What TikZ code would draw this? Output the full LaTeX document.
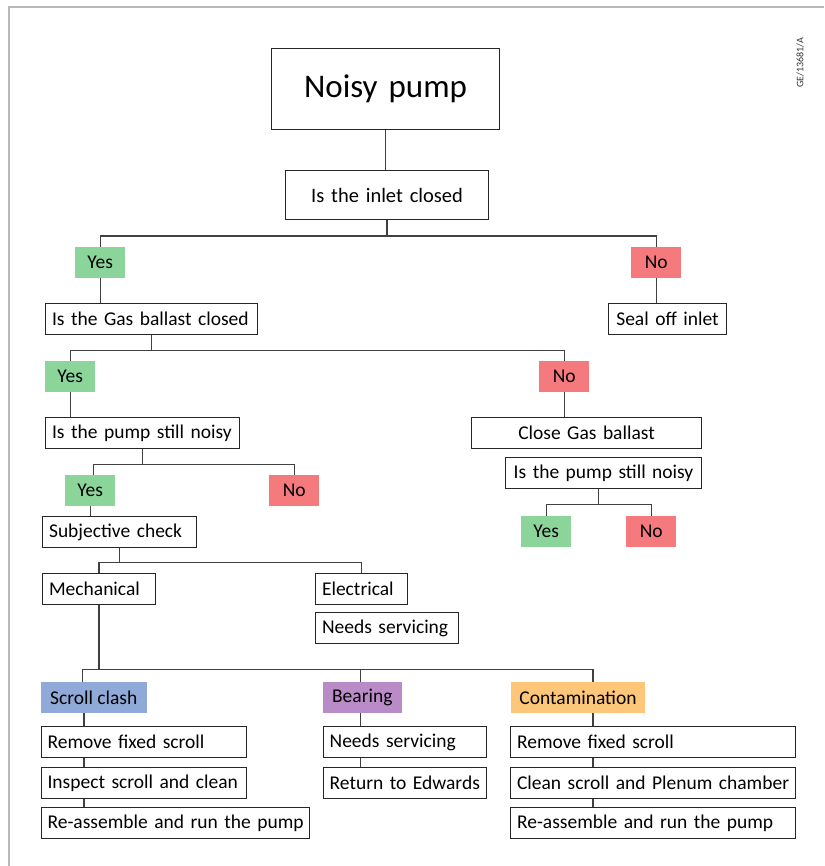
\documentclass[tikz,border=0pt]{standalone}
\usepackage{fontspec}
\setmainfont{Carlito}
\usepackage{xcolor}
\usepackage{tikz}
\definecolor{tagYes}{RGB}{140,213,154}
\definecolor{tagNo}{RGB}{244,122,126}
\definecolor{tagScroll}{RGB}{143,169,217}
\definecolor{tagBearing}{RGB}{185,139,199}
\definecolor{tagCont}{RGB}{253,198,121}
\newcommand{\bodyfont}{\fontsize{19.5}{23}\selectfont}

\begin{document}
\begin{tikzpicture}[x=1pt, y=-1pt,
    wbox/.style={draw=black!85, line width=1.1pt, fill=white, anchor=north west,
        inner xsep=6.5pt, inner ysep=0pt, minimum height=31pt, text width=#1,
        align=left, font=\bodyfont,
        execute at begin node=\leavevmode\hbox\bgroup, execute at end node=\egroup},
    tag/.style={fill=#1, anchor=north west, minimum width=50pt, minimum height=31pt,
        inner sep=0pt, font=\bodyfont},
    link/.style={draw=black!75, line width=1.2pt}]
    \useasboundingbox (0,0) rectangle (824,866);

    % Frame and reference
    \draw[gray!55, line width=1.5pt] (9,866) -- (9,7) -- (824,7);
    \node[rotate=90, text=black!80, font=\fontsize{10}{12}\selectfont] (ref) at (800,63) {GE/13681/A};

    % Top of the tree
    \node[wbox=215, minimum height=81pt, align=center, font=\fontsize{33}{38}\selectfont] (pump) at (271,48) {Noisy pump};
    \node[wbox=190, minimum height=49pt, align=center, font=\fontsize{20.5}{25}\selectfont] (inlet) at (285,170) {Is the inlet closed};
    \node[tag=tagYes] (yes1) at (75,247) {Yes};
    \node[tag=tagNo] (no1) at (631,247) {No};
    \node[wbox=199] (gas) at (45,303) {Is the Gas ballast closed};
    \node[wbox=105, align=center] (seal) at (608,303) {Seal off inlet};

    % Gas ballast branch
    \node[tag=tagYes] (yes2) at (45,361) {Yes};
    \node[tag=tagNo] (no2) at (539,361) {No};
    \node[wbox=181] (stillL) at (45,417) {Is the pump still noisy};
    \node[wbox=217, align=center] (close) at (471,417) {Close Gas ballast};
    \node[wbox=183, align=center] (stillR) at (505,457) {Is the pump still noisy};
    \node[tag=tagYes] (yes3) at (521,516) {Yes};
    \node[tag=tagNo] (no3) at (626,516) {No};

    % Still noisy branch
    \node[tag=tagYes] (yes4) at (65,475) {Yes};
    \node[tag=tagNo] (no4) at (269,475) {No};
    \node[wbox=141] (subj) at (42,516) {Subjective check};
    \node[wbox=100] (mech) at (42,573) {Mechanical};
    \node[wbox=79] (elec) at (315,573) {Electrical};
    \node[wbox=130] (elecserv) at (315,612) {Needs servicing};

    % Mechanical causes
    \node[tag=tagScroll, minimum width=106pt] (scroll) at (40.5,682) {Scroll clash};
    \node[tag=tagBearing, minimum width=79pt] (bearing) at (322.6,682) {Bearing};
    \node[tag=tagCont, minimum width=134pt] (cont) at (510.8,682) {Contamination};
    \node[wbox=192] (remA) at (40.5,726) {Remove fixed scroll};
    \node[wbox=192] (inspA) at (40.5,767) {Inspect scroll and clean};
    \node[wbox=255.5] (runA) at (40.5,807) {Re-assemble and run the pump};
    \node[wbox=150.4] (servB) at (322.6,726) {Needs servicing};
    \node[wbox=150.4] (retB) at (322.6,767) {Return to Edwards};
    \node[wbox=271.5] (remC) at (510,726) {Remove fixed scroll};
    \node[wbox=271.5] (cleanC) at (510,767) {Clean scroll and Plenum chamber};
    \node[wbox=271.5] (runC) at (510,807) {Re-assemble and run the pump};

    % Connectors
    \coordinate (colS) at (82.5,0);
    \coordinate (colA) at (84,0);
    \coordinate (colB) at (360.5,0);
    \coordinate (colC) at (593,0);
    \draw[link] (pump.south) -- (pump.south |- inlet.north);
    \draw[link] (inlet.south) -- ++(0,16) coordinate (j1);
    \draw[link] (yes1.north) |- (j1) -| (no1.north);
    \draw[link] (yes1.south) -- (yes1.south |- gas.north);
    \draw[link] (no1.south) -- (no1.south |- seal.north);
    \draw[link] (gas.south) -- ++(0,15) coordinate (j2);
    \draw[link] (yes2.north) |- (j2) -| (no2.north);
    \draw[link] (yes2.south) -- (yes2.south |- stillL.north);
    \draw[link] (no2.south) -- (no2.south |- close.north);
    \draw[link] ([xshift=-5pt]stillR.south) -- ++(0,15) coordinate (j6);
    \draw[link] (yes3.north) |- (j6) -| (no3.north);
    \draw[link] (stillL.south) -- ++(0,15) coordinate (j3);
    \draw[link] ([xshift=3pt]yes4.north) |- (j3) -| (no4.north);
    \draw[link] (yes4.south) -- (yes4.south |- subj.north);
    \draw[link] (subj.south) -- ++(0,14) coordinate (j4);
    \draw[link] (mech.north) |- (j4) -| (elec.north);
    \draw[link] (mech.south) -- ++(0,64) coordinate (j5);
    \draw[link] (scroll.north -| colS) |- (j5) -| (cont.north -| colC);
    \draw[link] (j5 -| colB) -- (bearing.north -| colB);
    \draw[link] (scroll.south -| colA) -- (remA.north -| colA);
    \draw[link] (remA.south -| colA) -- (inspA.north -| colA);
    \draw[link] (inspA.south -| colA) -- (runA.north -| colA);
    \draw[link] (bearing.south -| colB) -- (servB.north -| colB);
    \draw[link] (servB.south -| colB) -- (retB.north -| colB);
    \draw[link] (cont.south -| colC) -- (remC.north -| colC);
    \draw[link] (remC.south -| colC) -- (cleanC.north -| colC);
    \draw[link] (cleanC.south -| colC) -- (runC.north -| colC);
\end{tikzpicture}
\end{document}
